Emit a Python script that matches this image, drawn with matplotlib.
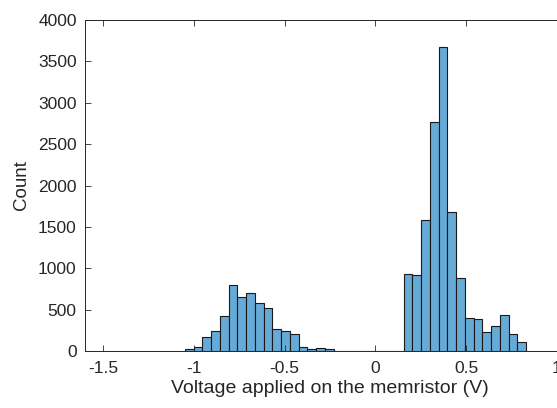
import numpy as np
import matplotlib
matplotlib.use('Agg')
import matplotlib.pyplot as plt

# histogram: first bin edge, bin width, counts per bin
bin_start = -1.049
bin_width = 0.0482
counts = [20, 50, 175, 242, 424, 800, 655, 699, 578, 515, 265, 242, 204, 45, 20, 34, 20,
          0, 0, 0, 0, 0, 0, 0, 0,
          930, 913, 1579, 2772, 3669, 1681, 881, 396, 384, 227, 307, 436, 206, 109]

x_ticks = [-1.5, -1, -0.5, 0, 0.5, 1]
y_ticks = [0, 500, 1000, 1500, 2000, 2500, 3000, 3500, 4000]

edges = bin_start + bin_width * np.arange(len(counts) + 1)

plt.rcParams['font.family'] = ['Liberation Sans', 'DejaVu Sans']
dark = '#262626'

fig = plt.figure(figsize=(5.57, 4.08), dpi=100)
# axes run past the right edge of the picture, like the cropped original
ax = fig.add_axes([85 / 557, 57 / 408, 490 / 557, 331 / 408])

ax.hist(edges[:-1], bins=edges, weights=counts, color='#66aad7',
        edgecolor='#1a1a1a', linewidth=0.8)

ax.set_xlim(-1.6, 1.1)
ax.set_ylim(0, 4000)
ax.set_xticks(x_ticks)
ax.set_xticklabels(['-1.5', '-1', '-0.5', '0', '0.5', '1'])
ax.set_yticks(y_ticks)
ax.tick_params(direction='in', length=4, width=0.6, colors=dark, labelsize=12.5,
               top=True, right=True)
ax.tick_params(axis='x', pad=7)
ax.tick_params(axis='y', pad=6)
for s in ax.spines.values():
    s.set_color(dark)
    s.set_linewidth(0.7)

ax.set_xlabel('Voltage applied on the memristor (V)', fontsize=14, color=dark, labelpad=3)
ax.set_ylabel('Count', fontsize=13.5, color=dark, labelpad=6)

plt.savefig('out.png', dpi=100)
plt.close()
